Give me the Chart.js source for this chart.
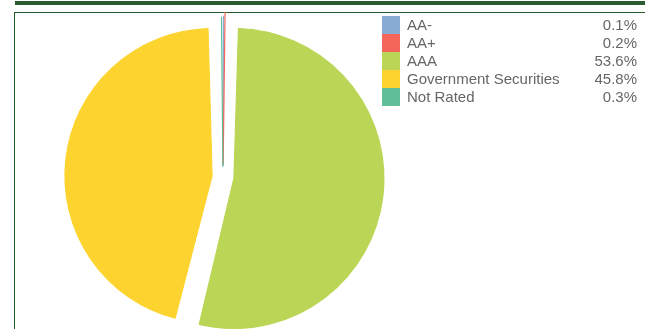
<!DOCTYPE html>
<html>
<head>
<meta charset="utf-8">
<script src="https://cdn.jsdelivr.net/npm/chart.js@4"></script>
<style>
    html, body { margin: 0; padding: 0; background: #fff; }
    body { position: relative; width: 645px; height: 329px; overflow: hidden; font-family: "Liberation Sans", Arial, sans-serif; }
    .top-bar { position: absolute; left: 15px; top: 1px; width: 640px; height: 4px; background: #2a5b2e; }
    .frame { position: absolute; left: 14px; top: 12px; width: 700px; height: 400px; border-top: 1px solid #1f5a26; border-left: 1px solid #1f5a26; }
    .pie-wrap { position: absolute; left: 13px; top: 12px; width: 420px; height: 330px; }
    .legend { position: absolute; left: 382px; top: 16.2px; width: 255px; }
    .legend-row { display: flex; height: 17.9px; line-height: 17.9px; color: #666; font-size: 15px; }
    .legend-box { width: 18px; height: 17.9px; margin-right: 7px; }
    .legend-label { flex: 1; white-space: nowrap; }
    .legend-value { text-align: right; }
</style>
</head>
<body>
<div class="top-bar"></div>
<div class="frame"></div>
<div class="pie-wrap"><canvas id="rating-pie"></canvas></div>
<div class="legend" id="rating-legend"></div>

<script>
// Credit rating mix of the portfolio (% of holdings)
const ratings = ['AA-', 'AA+', 'AAA', 'Government Securities', 'Not Rated'];
const weights = [0.1, 0.2, 53.6, 45.8, 0.3];
const sliceColors = ['#89abd3', '#f4655a', '#bbd656', '#fdd42f', '#60bf98'];
// Chart.js moves an arc by offset/4 (and grows it by about the same),
// so these give roughly an 11px split between the slices
const sliceOffsets = [44, 52, 44, 44, 42];

// legend rows: swatch, name, weight
const legendEl = document.getElementById('rating-legend');
legendEl.innerHTML = ratings.map((name, i) => `
    <div class="legend-row">
        <div class="legend-box" style="background:${sliceColors[i]}"></div>
        <div class="legend-label">${name}</div>
        <div class="legend-value">${weights[i].toFixed(1)}%</div>
    </div>`).join('');

new Chart(document.getElementById('rating-pie'), {
    type: 'pie',
    data: {
        labels: ratings,
        datasets: [{
            data: weights,
            backgroundColor: sliceColors,
            // same-colour outline so the sub-1% slivers stay visible
            borderColor: sliceColors,
            borderWidth: 1.2,
            offset: sliceOffsets
        }]
    },
    options: {
        responsive: true,
        maintainAspectRatio: false,
        animation: false,
        radius: 139,
        layout: { padding: 0 },
        plugins: {
            legend: { display: false },
            tooltip: { enabled: false }
        }
    }
});
</script>
</body>
</html>
